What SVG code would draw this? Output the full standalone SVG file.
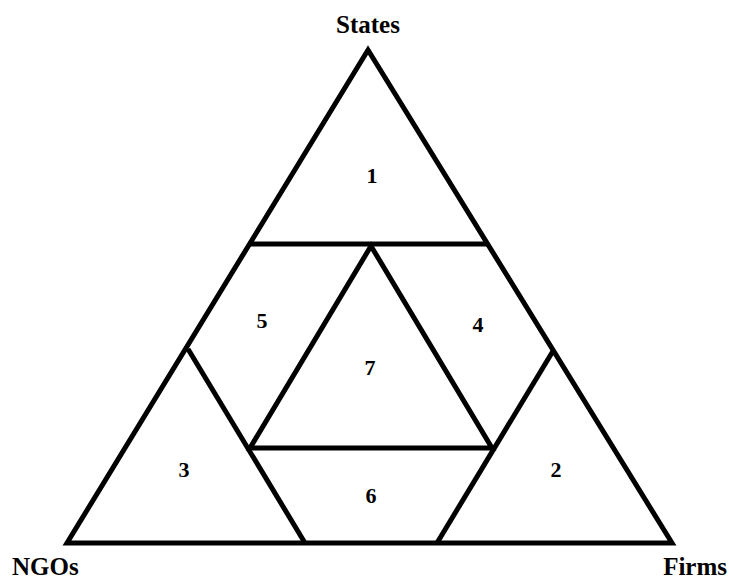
<svg xmlns="http://www.w3.org/2000/svg" width="729" height="581" viewBox="0 0 729 581">
<style>
.ln{stroke:#000;stroke-width:5;fill:none;stroke-linejoin:miter;stroke-linecap:butt}
.lbl{font-family:"Liberation Serif","Times New Roman",serif;font-weight:bold;font-size:25px;fill:#000}
.num{font-family:"Liberation Serif","Times New Roman",serif;font-weight:bold;font-size:22px;fill:#000;text-anchor:middle}
</style>
<rect width="729" height="581" fill="#fff"/>
<g id="connectors">
<polygon class="ln" points="368,50 67,543 672,543"/>
<line class="ln" x1="250" y1="244" x2="487" y2="244"/>
<polygon class="ln" points="371,246 250,448 492,448"/>
<line class="ln" x1="188" y1="349" x2="305" y2="543"/>
<line class="ln" x1="553" y1="351" x2="437" y2="543"/>
</g>
<g id="states"><text class="lbl" x="368" y="33" text-anchor="middle">States</text></g>
<g id="ngos"><text class="lbl" x="12" y="575">NGOs</text></g>
<g id="firms"><text class="lbl" x="727" y="575" text-anchor="end">Firms</text></g>
<g id="r1"><text class="num" x="372" y="183">1</text></g>
<g id="r2"><text class="num" x="556" y="477">2</text></g>
<g id="r3"><text class="num" x="184" y="477">3</text></g>
<g id="r4"><text class="num" x="478" y="332">4</text></g>
<g id="r5"><text class="num" x="262" y="328">5</text></g>
<g id="r6"><text class="num" x="371" y="503">6</text></g>
<g id="r7"><text class="num" x="370" y="375">7</text></g>
</svg>
